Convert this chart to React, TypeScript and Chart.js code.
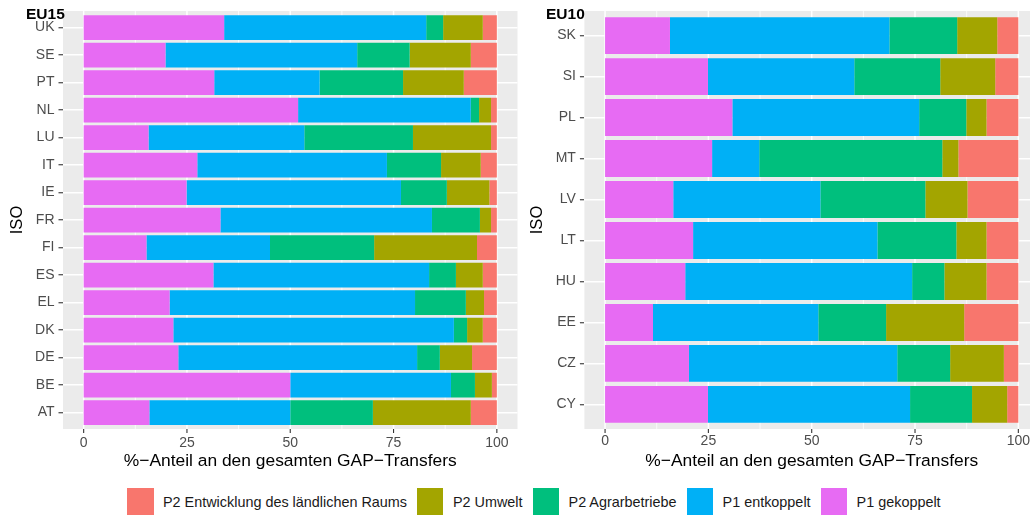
import React, { useEffect, useRef } from "react";
import { Chart, registerables } from "chart.js";

Chart.register(...registerables);

const FONT = "'Liberation Sans', Arial, Helvetica, sans-serif";

// Series (legend order) and colours
const seriesNames = [
  "P2 Entwicklung des ländlichen Raums",
  "P2 Umwelt",
  "P2 Agrarbetriebe",
  "P1 entkoppelt",
  "P1 gekoppelt",
];
const seriesColors = ["#F8766D", "#A3A500", "#00BF7D", "#00B0F6", "#E76BF3"];

// EU15 panel
const eu15Countries = ["UK", "SE", "PT", "NL", "LU", "IT", "IE", "FR", "FI", "ES", "EL", "DK", "DE", "BE", "AT"];
const eu15Gekoppelt = [34.0, 19.8, 31.6, 51.9, 15.7, 27.5, 24.9, 33.1, 15.2, 31.4, 20.8, 21.7, 22.9, 50.0, 15.9];
const eu15Entkoppelt = [48.9, 46.4, 25.5, 41.8, 37.7, 45.9, 51.9, 51.2, 29.9, 52.2, 59.4, 67.9, 57.8, 38.9, 34.1];
const eu15Agrar = [4.1, 12.7, 20.2, 2.0, 26.3, 13.1, 11.1, 11.6, 25.2, 6.5, 12.3, 3.2, 5.5, 5.8, 20.0];
const eu15Umwelt = [9.6, 14.8, 14.7, 2.9, 18.9, 9.6, 10.3, 2.7, 24.9, 6.5, 4.4, 3.8, 7.8, 4.1, 23.7];
const eu15Laendlich = [3.4, 6.3, 8.0, 1.4, 1.4, 3.9, 1.8, 1.4, 4.8, 3.4, 3.1, 3.4, 6.0, 1.2, 6.3];

// EU10 panel
const eu10Countries = ["SK", "SI", "PL", "MT", "LV", "LT", "HU", "EE", "CZ", "CY"];
const eu10Gekoppelt = [15.7, 24.9, 30.8, 25.9, 16.5, 21.3, 19.4, 11.6, 20.3, 24.9];
const eu10Entkoppelt = [53.1, 35.4, 45.2, 11.4, 35.6, 44.6, 54.9, 40.0, 50.4, 48.9];
const eu10Agrar = [16.4, 20.8, 11.4, 44.3, 25.4, 19.1, 7.8, 16.4, 12.8, 15.0];
const eu10Umwelt = [9.7, 13.3, 4.9, 3.9, 10.2, 7.3, 10.2, 18.9, 13.0, 8.5];
const eu10Laendlich = [5.1, 5.6, 7.7, 14.5, 12.3, 7.7, 7.7, 13.1, 3.5, 2.7];

const xTickValues = [0, 25, 50, 75, 100];
const xTitle = "%\u2212Anteil an den gesamten GAP\u2212Transfers";
const yTitle = "ISO";

// layout
const PANEL_TOP = 11;
const PANEL_BOTTOM = 429;
const CANVAS_H = 472;

type PanelProps = {
  left: number;
  width: number;
  yAxisWidth: number;
  rightPad: number;
  labels: string[];
  values: number[][]; // stacking order: gekoppelt, entkoppelt, agrar, umwelt, laendlich
};

function Panel({ left, width, yAxisWidth, rightPad, labels, values }: PanelProps) {
  const ref = useRef<HTMLCanvasElement | null>(null);

  useEffect(() => {
    if (!ref.current) return;
    const n = labels.length;
    const step = (PANEL_BOTTOM - PANEL_TOP) / (n + 0.2);
    const areaTop = PANEL_TOP + 0.1 * step;
    const areaBottom = PANEL_BOTTOM - 0.1 * step;

    // stacking order left->right: P1 gekoppelt, P1 entkoppelt, P2 Agrar, P2 Umwelt, P2 Entwicklung
    const stackIdx = [4, 3, 2, 1, 0];
    const datasets = stackIdx.map((si, k) => ({
      label: seriesNames[si],
      data: values[k],
      backgroundColor: seriesColors[si],
      borderWidth: 0,
      barPercentage: 0.9,
      categoryPercentage: 1,
    }));

    const panelPlugin = {
      id: "panelBg",
      beforeDraw(chart: any) {
        const { ctx, chartArea, scales } = chart;
        const x = scales.x;
        ctx.save();
        ctx.fillStyle = "#EBEBEB";
        ctx.fillRect(chartArea.left, PANEL_TOP, chartArea.right - chartArea.left, PANEL_BOTTOM - PANEL_TOP);
        ctx.strokeStyle = "#FFFFFF";
        for (let i = 0; i < xTickValues.length - 1; i++) {
          const v = (xTickValues[i] + xTickValues[i + 1]) / 2;
          const px = x.getPixelForValue(v);
          ctx.lineWidth = 0.8;
          ctx.beginPath();
          ctx.moveTo(px, PANEL_TOP);
          ctx.lineTo(px, PANEL_BOTTOM);
          ctx.stroke();
        }
        for (const v of xTickValues) {
          const px = x.getPixelForValue(v);
          ctx.lineWidth = 1.5;
          ctx.beginPath();
          ctx.moveTo(px, PANEL_TOP);
          ctx.lineTo(px, PANEL_BOTTOM);
          ctx.stroke();
        }
        ctx.restore();
      },
      afterDraw(chart: any) {
        const { ctx, scales } = chart;
        const x = scales.x;
        ctx.save();
        ctx.strokeStyle = "#333333";
        ctx.lineWidth = 1.1;
        for (const v of xTickValues) {
          const px = x.getPixelForValue(v);
          ctx.beginPath();
          ctx.moveTo(px, PANEL_BOTTOM);
          ctx.lineTo(px, PANEL_BOTTOM + 4);
          ctx.stroke();
        }
        ctx.restore();
      },
    };

    const chart = new Chart(ref.current, {
      type: "bar",
      data: { labels, datasets },
      plugins: [panelPlugin],
      options: {
        animation: false,
        responsive: false,
        maintainAspectRatio: false,
        indexAxis: "y",
        layout: { padding: { top: areaTop, right: rightPad, left: 0, bottom: 0 } },
        plugins: { legend: { display: false }, tooltip: { enabled: false } },
        scales: {
          x: {
            type: "linear",
            stacked: true,
            min: -5,
            max: 105,
            afterBuildTicks: (s: any) => {
              s.ticks = xTickValues.map((v) => ({ value: v }));
            },
            afterFit: (s: any) => {
              s.height = CANVAS_H - areaBottom;
            },
            grid: { display: false, drawTicks: false, tickLength: 0 },
            border: { display: false },
            ticks: {
              color: "#4D4D4D",
              font: { size: 14, family: FONT },
              padding: 8,
              maxRotation: 0,
              autoSkip: false,
            },
            title: {
              display: true,
              text: xTitle,
              color: "#000000",
              font: { size: 17.4, family: FONT },
              padding: { top: 0, bottom: 0 },
            },
          },
          y: {
            type: "category",
            stacked: true,
            offset: true,
            afterFit: (s: any) => {
              s.width = yAxisWidth;
            },
            grid: {
              color: "#FFFFFF",
              lineWidth: 1.5,
              offset: false,
              drawTicks: true,
              tickLength: 4.5,
              tickColor: "#333333",
              tickWidth: 1.1,
            },
            border: { display: false },
            ticks: {
              color: "#4D4D4D",
              font: { size: 14, family: FONT },
              padding: 4,
              autoSkip: false,
            },
            title: {
              display: true,
              text: yTitle,
              color: "#000000",
              font: { size: 16.5, family: FONT },
              padding: { top: 8, bottom: 0 },
            },
          },
        },
      } as any,
    });
    return () => chart.destroy();
  }, []);

  return (
    <canvas
      ref={ref}
      width={width}
      height={CANVAS_H}
      style={{ position: "absolute", left, top: 0, width, height: CANVAS_H }}
    />
  );
}

export default function App() {
  const legendOrder = [0, 1, 2, 3, 4];
  return (
    <div
      style={{
        position: "fixed",
        left: 0,
        top: 0,
        width: 1030,
        height: 516,
        overflow: "hidden",
        background: "#FFFFFF",
        fontFamily: FONT,
      }}
    >
      <Panel
        left={0}
        width={520}
        yAxisWidth={63}
        rightPad={2.5}
        labels={eu15Countries}
        values={[eu15Gekoppelt, eu15Entkoppelt, eu15Agrar, eu15Umwelt, eu15Laendlich]}
      />
      <Panel
        left={520}
        width={520}
        yAxisWidth={64.4}
        rightPad={1}
        labels={eu10Countries}
        values={[eu10Gekoppelt, eu10Entkoppelt, eu10Agrar, eu10Umwelt, eu10Laendlich]}
      />
      <div
        style={{
          position: "absolute",
          left: 26,
          top: 6.3,
          fontSize: 15.5,
          fontWeight: "bold",
          lineHeight: 1,
          color: "#000",
        }}
      >
        EU15
      </div>
      <div
        style={{
          position: "absolute",
          left: 546,
          top: 6.3,
          fontSize: 15.5,
          fontWeight: "bold",
          lineHeight: 1,
          color: "#000",
        }}
      >
        EU10
      </div>
      <div
        style={{
          position: "absolute",
          left: 127,
          top: 488,
          height: 27,
          display: "flex",
          alignItems: "center",
          whiteSpace: "nowrap",
        }}
      >
        {legendOrder.map((i) => (
          <div key={i} style={{ display: "flex", alignItems: "center", marginRight: 10 }}>
            <div style={{ width: 26.5, height: 26.5, background: seriesColors[i] }} />
            <span style={{ marginLeft: 9.5, fontSize: 14.4, color: "#1A1A1A" }}>{seriesNames[i]}</span>
          </div>
        ))}
      </div>
    </div>
  );
}
